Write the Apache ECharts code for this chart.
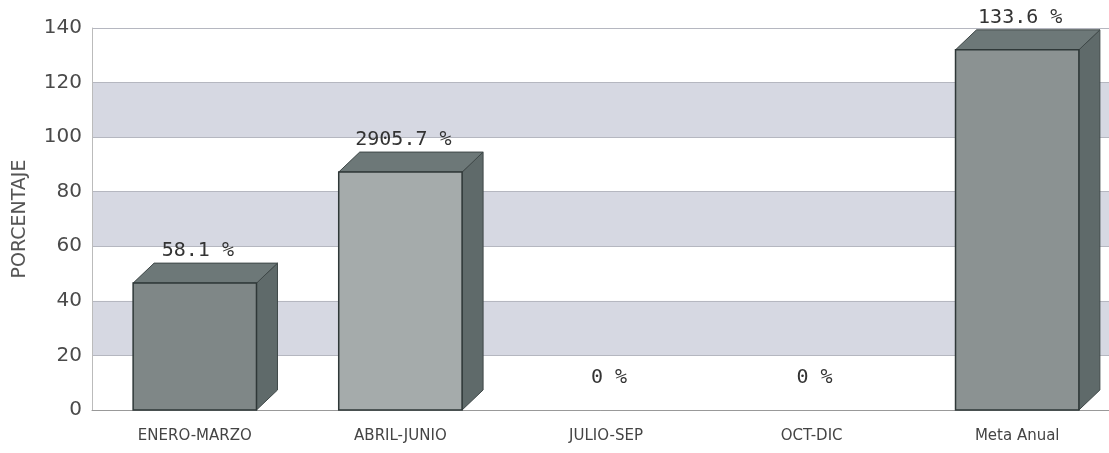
<!DOCTYPE html>
<html>
<head>
<meta charset="utf-8">
<script src="https://cdn.jsdelivr.net/npm/echarts@6/dist/echarts.min.js"></script>
<style>
  html, body { margin: 0; padding: 0; background: #fff; }
  #chart { width: 1109px; height: 453px; }
</style>
</head>
<body>
<div id="chart"></div>
<script>
// categories and values
const categories = ['ENERO-MARZO', 'ABRIL-JUNIO', 'JULIO-SEP', 'OCT-DIC', 'Meta Anual']
const values = [46.5, 87.2, 0, 0, 132]
const valueLabels = ['58.1 %', '2905.7 %', '0 %', '0 %', '133.6 %']
const frontColors = ['#7f8787', '#a5abab', '#8a9191', '#8a9191', '#8b9292']

const chart = echarts.init(document.getElementById('chart'))

const DX = 21, DY = 20

function renderBox(params, api) {
    const idx = api.value(0)
    const top = api.coord([idx, api.value(1)])
    const base = api.coord([idx, 0])
    const bw = api.size([1, 0])[0] * 0.6
    const l = top[0] - bw / 2, r = top[0] + bw / 2
    const t = top[1], b = base[1]
    const children = []
    if (b - t > 0.5) {
        children.push({
            type: 'polygon',
            shape: { points: [[r, t], [r + DX, t - DY], [r + DX, b - DY], [r, b]] },
            style: { fill: '#5f6a6a', stroke: '#3f4848', lineWidth: 1 }
        })
        children.push({
            type: 'polygon',
            shape: { points: [[l, t], [l + DX, t - DY], [r + DX, t - DY], [r, t]] },
            style: { fill: '#6d7878', stroke: '#3f4848', lineWidth: 1 }
        })
        children.push({
            type: 'rect',
            shape: { x: l, y: t, width: bw, height: b - t },
            style: { fill: frontColors[idx], stroke: '#2f3838', lineWidth: 1.5 }
        })
    }
    children.push({
        type: 'text',
        x: top[0] + 3,
        y: t - DY - 2,
        style: {
            text: valueLabels[idx],
            fill: '#333',
            font: '20px "DejaVu Sans Mono"',
            align: 'center',
            verticalAlign: 'bottom'
        }
    })
    return { type: 'group', children: children }
}

const option = {
    animation: false,
    grid: { left: 92, right: -11, top: 28, bottom: 43, outerBoundsMode: 'none' },
    xAxis: {
        type: 'category',
        data: categories,
        axisLine: { lineStyle: { color: '#999' } },
        axisTick: { show: false },
        axisLabel: {
            color: '#444',
            fontSize: 15,
            fontFamily: 'DejaVu Sans',
            margin: 19
        }
    },
    yAxis: {
        type: 'value',
        min: 0,
        max: 140,
        interval: 20,
        name: 'PORCENTAJE',
        nameLocation: 'middle',
        nameGap: 62,
        nameTextStyle: { color: '#555', fontSize: 19, fontFamily: 'DejaVu Sans' },
        axisLine: { show: true, lineStyle: { color: '#bbb' } },
        axisTick: { show: false },
        axisLabel: {
            color: '#4a4a4a',
            fontSize: 20,
            fontFamily: 'DejaVu Sans',
            margin: 10
        },
        splitLine: { lineStyle: { color: '#b5b7c0' } },
        splitArea: { show: true, areaStyle: { color: ['#ffffff', '#d6d8e2'] } }
    },
    series: [
        {
            type: 'custom',
            renderItem: renderBox,
            data: values.map((v, i) => [i, v]),
            encode: { x: 0, y: 1 },
            clip: false
        }
    ]
}

chart.setOption(option)
</script>
</body>
</html>
